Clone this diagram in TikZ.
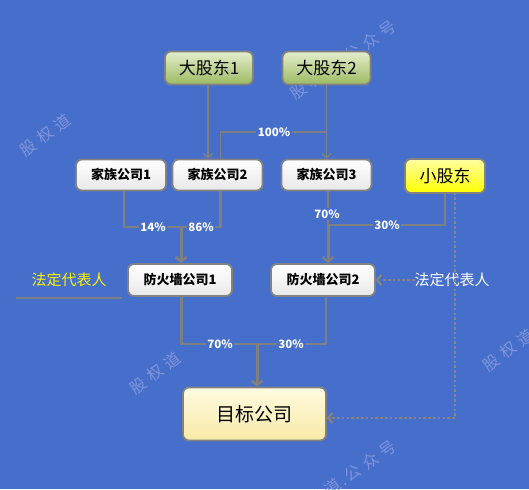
\documentclass[tikz,border=0pt]{standalone}
\usepackage{fontspec}
\setmainfont{Noto Sans CJK SC}
\usetikzlibrary{arrows.meta,decorations.markings}
\definecolor{bg}{RGB}{70,111,204}
\definecolor{ln}{RGB}{128,128,128}
\definecolor{dotc}{RGB}{138,132,125}
\definecolor{bd}{RGB}{130,130,130}
\definecolor{wmc}{RGB}{128,148,218}
\definecolor{gtop}{RGB}{228,238,204}
\definecolor{gbot}{RGB}{156,186,98}
\definecolor{wtop}{RGB}{255,255,255}
\definecolor{wbot}{RGB}{232,232,232}
\definecolor{ytop}{RGB}{255,255,160}
\definecolor{ybot}{RGB}{255,255,0}
\definecolor{ttop}{RGB}{255,251,225}
\definecolor{tbot}{RGB}{248,234,166}
\begin{document}
\begin{tikzpicture}[x=1pt,y=-1pt,
  box/.style={draw=bd,line width=1.8pt,rounded corners=6pt,inner sep=0pt,text=black},
  greenbox/.style={box,top color=gtop,bottom color=gbot,minimum width=88pt,minimum height=33pt,font=\fontsize{17}{17}\selectfont},
  whitebox/.style={box,top color=wtop,bottom color=wbot,font=\bfseries\fontsize{13}{13}\selectfont},
  famsize/.style={minimum width=90pt,minimum height=31pt},
  fwsize/.style={minimum width=104pt,minimum height=32pt},
  yellowbox/.style={box,top color=ytop,bottom color=ybot,minimum width=80pt,minimum height=34pt,font=\fontsize{17}{17}\selectfont},
  targetbox/.style={box,top color=ttop,bottom color=tbot,minimum width=143pt,minimum height=53pt,font=\fontsize{19}{19}\selectfont},
  pct/.style={fill=bg,text=white,inner sep=1.5pt,font=\bfseries\fontsize{11.5}{11.5}\selectfont},
  wm/.style={text=wmc,font=\fontsize{16}{16}\selectfont,inner sep=0pt},
  thinln/.style={draw=ln,line width=1.4pt},
  midln/.style={draw=ln,line width=2.2pt},
  thinarr/.style={thinln,-{Straight Barb[length=4pt,width=9pt,line width=1.4pt]}},
  thickarr/.style={draw=ln,line width=3pt,-{Straight Barb[length=4.5pt,width=11pt,line width=2.4pt]}},
  dotline/.style={decorate,decoration={markings,mark=between positions 0 and 1 step 4.8pt with {\fill[dotc] (-1.3pt,-1.3pt) rectangle (1.3pt,1.3pt);}}},
  tiponly/.style={draw=dotc,line width=2.2pt,-{Straight Barb[length=4pt,width=10pt,line width=2.2pt]}}
]
\fill[bg] (0,0) rectangle (529,489);
\useasboundingbox (0,0) rectangle (529,489);

% watermarks
\node[wm,rotate=35] (wm1) at (343,60) {股\hspace{5pt}权\hspace{5pt}道\hspace{2pt}.\hspace{2pt}公\hspace{5pt}众\hspace{5pt}号};
\node[wm,rotate=37] (wm2) at (45,135) {股\hspace{5pt}权\hspace{5pt}道};
\node[wm,rotate=37] (wm3) at (155,373) {股\hspace{5pt}权\hspace{5pt}道};
\node[wm,rotate=37] (wm4) at (508,350) {股\hspace{5pt}权\hspace{5pt}道};
\node[wm,rotate=35] (wm5) at (343,480) {股\hspace{5pt}权\hspace{5pt}道\hspace{2pt}.\hspace{2pt}公\hspace{5pt}众\hspace{5pt}号};

% boxes
\node[greenbox] (d1) at (209,68) {大股东1};
\node[greenbox] (d2) at (326.5,68) {大股东2};
\node[whitebox,famsize] (jz1) at (121,175) {家族公司1};
\node[whitebox,famsize] (jz2) at (217.5,175) {家族公司2};
\node[whitebox,famsize] (jz3) at (326.5,175) {家族公司3};
\node[yellowbox] (xg) at (445,176) {小股东};
\node[whitebox,fwsize] (ff1) at (180,280) {防火墙公司1};
\node[whitebox,fwsize] (ff2) at (323,280) {防火墙公司2};
\node[targetbox] (mb) at (254.5,414) {目标公司};

\node[text=yellow,font=\fontsize{15}{15}\selectfont,inner sep=1pt] (fr1) at (69,280) {法定代表人};
\node[text=white,font=\fontsize{15}{15}\selectfont,inner sep=1pt] (fr2) at (452,280) {法定代表人};
\coordinate (u1) at (16,298);
\coordinate (u2) at (122,298);
\draw[midln] (u1) -- (u2);

% junctions
\coordinate (b100) at (326.5,132);
\coordinate (j1) at (181,227);
\coordinate (j2) at (328,225);
\coordinate (j3) at (257,344);

% 大股东 -> 家族
\draw[thinarr] ([xshift=-1pt]d1.south) -- ([xshift=-1pt]d1.south |- jz2.north);
\draw[thinarr] (d2.south) -- (jz3.north);
\draw[thinln] (b100) -| ([xshift=3pt]jz2.north);
\node[pct] (p100) at (274,132) {100\%};

% 家族 -> 防火墙1
\draw[midln] ([xshift=3pt]jz1.south) |- (j1);
\draw[midln] ([xshift=3pt]jz2.south) |- (j1);
\node[pct] (p14) at (153,227) {14\%};
\node[pct] (p86) at (201,227) {86\%};
\draw[thickarr] (j1) -- (j1 |- ff1.north);

% 家族3, 小股东 -> 防火墙2
\draw[midln] ([xshift=1.5pt]jz3.south) -- (j2);
\draw[midln] (xg.south) |- (j2);
\node[pct] (p70a) at (327,214) {70\%};
\node[pct] (p30a) at (387,225) {30\%};
\draw[thickarr] (j2) -- (j2 |- ff2.north);

% 防火墙 -> 目标
\draw[midln] ([xshift=1.5pt]ff1.south) |- (j3);
\draw[midln] ([xshift=3pt]ff2.south) |- (j3);
\node[pct] (p70b) at (220,344) {70\%};
\node[pct] (p30b) at (291,344) {30\%};
\draw[thickarr] (j3) -- (j3 |- mb.north);

% dotted
\coordinate (dtop) at ([xshift=10pt]xg.south);
\coordinate (dend) at ([yshift=-4pt]mb.east);
\coordinate (dcorner) at (dtop |- dend);
\path[dotline] (dtop) -- (dcorner) -- ([xshift=4pt]dend);
\draw[tiponly] ([xshift=3pt]dend) -- (dend);
\coordinate (fend) at (fr2.west -| ff2.east);
\path[dotline] (fr2.west) -- ([xshift=4pt]fend);
\draw[tiponly] ([xshift=3pt]fend) -- (fend);
\end{tikzpicture}
\end{document}
